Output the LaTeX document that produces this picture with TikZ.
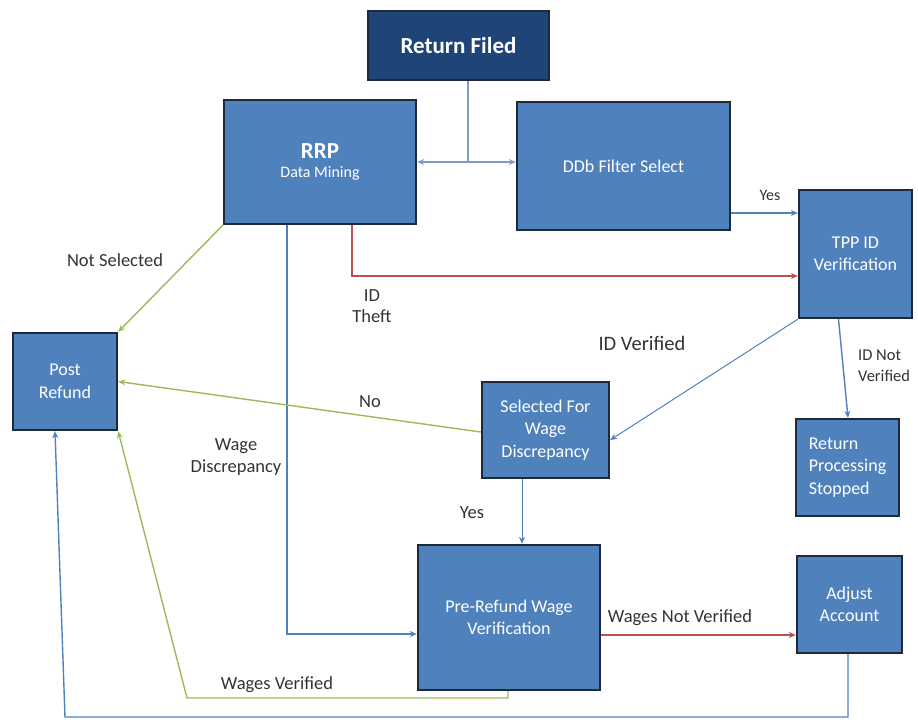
\documentclass[tikz,border=0pt]{standalone}
\usepackage{fontspec}
\setmainfont{Carlito}
\usetikzlibrary{arrows.meta}
\definecolor{boxblue}{HTML}{4F81BD}
\definecolor{navy}{HTML}{1F4478}
\definecolor{edge}{HTML}{1E2A3A}
\definecolor{lblue}{HTML}{4F81BD}
\definecolor{gblue}{HTML}{7D9CC4}
\definecolor{lgreen}{HTML}{9BBB59}
\definecolor{lred}{HTML}{C0504D}
\definecolor{txt}{HTML}{333333}
\tikzset{
  box/.style={draw=edge, line width=2.4pt, fill=boxblue, text=white, align=center, inner sep=2pt, font=\fontsize{18}{22.5}\selectfont},
  lbl/.style={text=txt, align=center, font=\fontsize{18.5}{21.5}\selectfont, inner sep=0pt},
  conn/.style={line width=1.4pt, -{Stealth[length=7pt,width=6pt]}},
}
\begin{document}
\begin{tikzpicture}[x=1pt,y=-1pt]
\useasboundingbox (0,0) rectangle (918,721);
% boxes
\node[box, fill=navy, minimum width=181pt, minimum height=69pt, font=\bfseries\fontsize{23}{26}\selectfont] (rf) at (458.5,45.5) {Return Filed};
\node[box, minimum width=192pt, minimum height=124pt] (rrp) at (320,162) {{\bfseries\fontsize{23}{26}\selectfont RRP}\\[-4pt]{\fontsize{16}{18}\selectfont Data Mining}};
\node[box, minimum width=213pt, minimum height=128pt] (ddb) at (623.5,166) {DDb Filter Select};
\node[box, minimum width=113pt, minimum height=128pt] (tpp) at (855.5,254) {TPP ID\\Verification};
\node[box, minimum width=104pt, minimum height=97pt] (post) at (65,381.5) {Post\\Refund};
\node[box, minimum width=127pt, minimum height=96pt] (sel) at (545.5,430) {Selected For\\Wage\\Discrepancy};
\node[box, minimum width=103pt, minimum height=97pt, align=left] (stop) at (847.5,467.5) {Return\\Processing\\Stopped};
\node[box, minimum width=182pt, minimum height=145pt] (pre) at (509,617.5) {Pre-Refund Wage\\Verification};
\node[box, minimum width=105pt, minimum height=97pt] (adj) at (849.5,604.5) {Adjust\\Account};
% coordinates
\coordinate (j) at (468,162);
\coordinate (r1) at (352,276);
\coordinate (b1) at (287,634);
\coordinate (w1) at (508,698);
\coordinate (w2) at (187,698);
\coordinate (a1) at (848,717);
\coordinate (a2) at (65,717);
% connectors
\draw[line width=1.2pt, gblue] (rf.south -| j) -- (j);
\draw[conn, gblue, line width=1.2pt] (j) -- (rrp.east |- j);
\draw[conn, gblue, line width=1.2pt] (j) -- (ddb.west |- j);
\draw[conn, lblue] (ddb.east |- 0,213) -- (tpp.west |- 0,213);
\draw[conn, lred] (rrp.south -| r1) -- (r1) -- (tpp.west |- r1);
\draw[conn, lgreen] (rrp.south west) -- (post.north east);
\draw[conn, lblue] (rrp.south -| b1) -- (b1) -- (pre.west |- b1);
\draw[conn, lblue, line width=1pt] (tpp.south west) -- ([yshift=-10pt]sel.east);
\draw[conn, lblue] ([xshift=-17pt]tpp.south) -- ([xshift=0.5pt]stop.north);
\draw[conn, lgreen] ([yshift=-2pt]sel.west) -- (post.east);
\draw[conn, lblue, line width=1pt] (sel.south -| 522,0) -- (pre.north -| 522,0);
\draw[conn, lred] (pre.east |- 0,635) -- (adj.west |- 0,635);
\draw[conn, lgreen] (pre.south -| w1) -- (w1) -- (w2) -- (post.south east);
\draw[conn, lblue] (adj.south -| a1) -- (a1) -- (a2) -- ([xshift=-10pt]post.south);
% labels
\node[lbl] (l1) at (115,260) {Not Selected};
\node[lbl] (l2) at (372,306) {ID\\Theft};
\node[lbl] (l3) at (370,402) {No};
\node[lbl] (l4) at (236,457) {Wage\\Discrepancy};
\node[lbl, font=\fontsize{16}{18}\selectfont] (l5) at (770,195) {Yes};
\node[lbl, font=\fontsize{20.5}{24}\selectfont] (l6) at (642,343) {ID Verified};
\node[lbl, align=left, anchor=west, font=\fontsize{16.5}{21.5}\selectfont] (l7) at (858,366) {ID Not\\Verified};
\node[lbl] (l8) at (472,513) {Yes};
\node[lbl] (l9) at (680,618) {Wages Not Verified};
\node[lbl] (l10) at (277,685) {Wages Verified};
\end{tikzpicture}
\end{document}
